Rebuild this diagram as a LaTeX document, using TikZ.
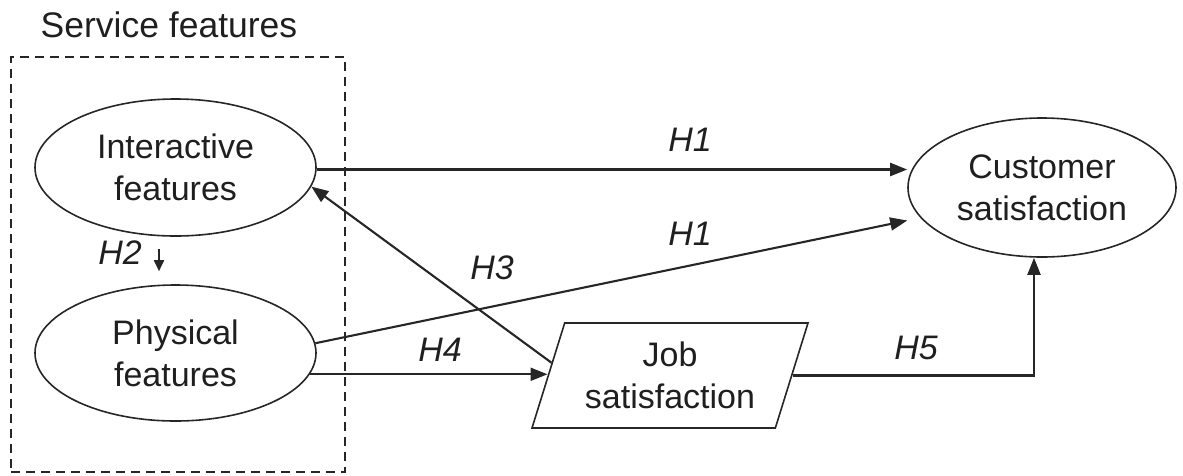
\documentclass[tikz,border=0pt]{standalone}
\usepackage{fontspec}
\setmainfont{Liberation Sans}
\usetikzlibrary{shapes.geometric,arrows.meta,calc}
\begin{document}
\begin{tikzpicture}[x=1pt,y=-1pt,
  txt/.style={font=\fontsize{34}{42}\selectfont, text=black!88},
  ell/.style={ellipse, draw=black!85, line width=1.6pt, inner sep=0pt, align=center, txt},
  lab/.style={font=\fontsize{34}{40}\selectfont\itshape, text=black!88, inner sep=0pt},
  arr/.style={draw=black!85, line width=2.1pt, -{Triangle[length=17pt,width=13pt]}},
  smallarr/.style={draw=black!85, line width=1.8pt, -{Triangle[length=11pt,width=10pt]}},
  ]
\useasboundingbox (0,0) rectangle (1183,475);
\node[font=\fontsize{35.5}{42}\selectfont, text=black!88, inner sep=0pt] (title) at (169,25) {Service features};
\node[draw=black!85, dash pattern=on 9pt off 6pt, line width=1.5pt, minimum width=334pt, minimum height=415pt, inner sep=0pt, anchor=north west] (box) at (10,56) {};
\node[ell, minimum width=281pt, minimum height=137pt] (int) at (175.5,167.5) {Interactive\\features};
\node[ell, minimum width=281pt, minimum height=136pt] (phys) at (175.5,353) {Physical\\features};
\node[ell, minimum width=268pt, minimum height=139pt] (cust) at (1042,187.5) {Customer\\satisfaction};
\node[trapezium, trapezium left angle=64, trapezium right angle=116, trapezium stretches body, draw=black!85, line width=1.6pt, minimum width=276pt, minimum height=105pt, inner sep=0pt, align=center, txt] (js) at (670,375.5) {Job\\satisfaction};
\coordinate (h3start) at ($(js.bottom left corner)!0.62!(js.top left corner)$);
\draw[arr] ([yshift=-2pt]int.east) -- ([yshift=-2pt]int.east -| cust.west);
\draw[arr] (phys.4) -- ([yshift=-33pt]cust.west);
\draw[arr] (h3start) -- (int.-8);
\draw[arr] (phys.-9) -- (phys.-9 -| js.left side);
\draw[arr] (js.right side) -| ([xshift=-8pt]cust.south);
\draw[smallarr] ($(int.south)+(-16.5,12)$) -- ($(phys.north)+(-16.5,-13)$);
\node[lab] (h1a) at (690,140) {H1};
\node[lab] (h1b) at (690,234) {H1};
\node[lab] (h3) at (492,268) {H3};
\node[lab] (h4) at (440,350) {H4};
\node[lab] (h5) at (916,348) {H5};
\node[lab] (h2) at (120,253) {H2};
\end{tikzpicture}
\end{document}
